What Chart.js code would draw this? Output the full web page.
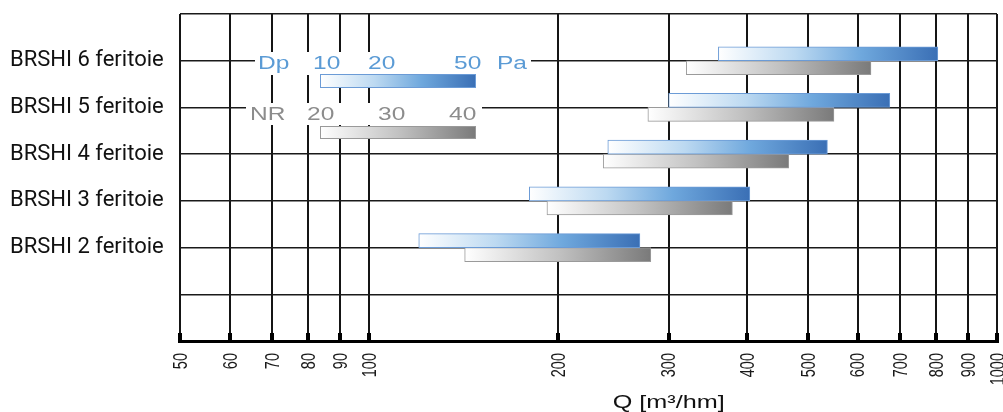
<!DOCTYPE html>
<html>
<head>
<meta charset="utf-8">
<script src="https://cdn.jsdelivr.net/npm/chart.js@4/dist/chart.umd.min.js"></script>
<style>
  html, body { margin: 0; padding: 0; background: #fff; }
  #wrap { width: 1003px; height: 412px; }
</style>
</head>
<body>
<div id="wrap"><canvas id="firstChart"></canvas></div>
<script>
// rows top to bottom, empty rows keep the grid spacing
const categories = ['', 'BRSHI 6 feritoie', 'BRSHI 5 feritoie', 'BRSHI 4 feritoie', 'BRSHI 3 feritoie', 'BRSHI 2 feritoie', '', '']
const dpRanges = [null, [360, 805], [300, 675], [240, 537], [180, 404], [120, 270], null, null]
const nrRanges = [null, [320, 630], [278, 550], [236, 466], [192, 379], [142, 281], null, null]
const xTicks = [50, 60, 70, 80, 90, 100, 200, 300, 400, 500, 600, 700, 800, 900, 1000]
const dpLegend = ['Dp', '10', '20', '50', 'Pa']
const nrLegend = ['NR', '20', '30', '40']
const axisTitle = 'Q [m³/hm]'

const blueStops = [[0, '#ffffff'], [0.35, '#bcd9f1'], [0.65, '#6fa8dd'], [1, '#3a6fb5']]
const grayStops = [[0, '#ffffff'], [0.5, '#c2c2c2'], [1, '#7a7a7a']]

const makeGradient = (ctx, x0, x1, stops) => {
    const g = ctx.createLinearGradient(x0, 0, x1, 0)
    stops.forEach(s => g.addColorStop(s[0], s[1]))
    return g
}

const barFill = (stops) => (context) => {
    const chart = context.chart
    const raw = context.raw
    const fallback = stops[stops.length - 1][1]
    if (!chart.chartArea || !Array.isArray(raw)) return fallback
    const x0 = chart.scales.x.getPixelForValue(raw[0])
    const x1 = chart.scales.x.getPixelForValue(raw[1])
    if (!isFinite(x0) || !isFinite(x1)) return fallback
    return makeGradient(chart.ctx, x0, x1, stops)
}

// stretched text, like the original artwork
const stretchText = (ctx, text, x, y, sx, align) => {
    ctx.save()
    ctx.translate(x, y)
    ctx.scale(sx, 1)
    ctx.textAlign = align || 'left'
    ctx.fillText(text, 0, 0)
    ctx.restore()
}

const decor = {
    id: 'decor',
    afterDraw(chart) {
        const ctx = chart.ctx
        const x = chart.scales.x
        const area = chart.chartArea

        // x tick labels, rotated
        ctx.save()
        ctx.fillStyle = '#1a1a1a'
        ctx.font = '14.5px "Liberation Sans", Arial, sans-serif'
        ctx.textBaseline = 'middle'
        xTicks.forEach(v => {
            ctx.save()
            ctx.translate(x.getPixelForValue(v) + 1, area.bottom + 12)
            ctx.scale(1.45, 1)
            ctx.rotate(-Math.PI / 2)
            ctx.textAlign = 'right'
            ctx.fillText(String(v), 0, 0)
            ctx.restore()
        })
        ctx.restore()

        // axis title
        ctx.save()
        ctx.fillStyle = '#111'
        ctx.font = '18px "Liberation Sans", Arial, sans-serif'
        ctx.textBaseline = 'middle'
        stretchText(ctx, axisTitle, x.getPixelForValue(300), 403, 1.4, 'center')
        ctx.restore()

        // legend box
        const lx = area.left
        const ly = area.top
        ctx.save()
        ctx.fillStyle = '#fff'
        ctx.fillRect(lx + 75, ly + 38, 276, 23)
        ctx.fillRect(lx + 66, ly + 89, 236, 22)

        ctx.font = '17.5px "Liberation Sans", Arial, sans-serif'
        ctx.textBaseline = 'middle'
        ctx.fillStyle = '#5b9bd5'
        const dpX = [78, 133, 188, 274, 317]
        dpLegend.forEach((t, i) => stretchText(ctx, t, lx + dpX[i], ly + 50, 1.4))
        ctx.fillStyle = '#8c8c8c'
        const nrX = [70, 127, 198, 269]
        nrLegend.forEach((t, i) => stretchText(ctx, t, lx + nrX[i], ly + 101, 1.4))

        ctx.fillStyle = makeGradient(ctx, lx + 140, lx + 296, blueStops)
        ctx.fillRect(lx + 140, ly + 60, 156, 14)
        ctx.strokeStyle = '#6b9bd6'
        ctx.lineWidth = 1
        ctx.strokeRect(lx + 140.5, ly + 60.5, 155, 13)
        ctx.fillStyle = makeGradient(ctx, lx + 140, lx + 296, grayStops)
        ctx.fillRect(lx + 140, ly + 112, 156, 13)
        ctx.strokeStyle = '#999'
        ctx.strokeRect(lx + 140.5, ly + 112.5, 155, 12)
        ctx.restore()
    }
}

const firstChart = new Chart(document.getElementById('firstChart').getContext('2d'), {
    type: 'bar',
    data: {
        labels: categories,
        datasets: [{
            label: 'Dp',
            data: dpRanges,
            backgroundColor: barFill(blueStops),
            borderColor: '#6b9bd6',
            borderWidth: 1,
            borderSkipped: false,
            barThickness: 14
        }, {
            label: 'NR',
            data: nrRanges,
            backgroundColor: barFill(grayStops),
            borderColor: '#9a9a9a',
            borderWidth: 1,
            borderSkipped: false,
            barThickness: 14
        }]
    },
    options: {
        indexAxis: 'y',
        responsive: true,
        maintainAspectRatio: false,
        animation: false,
        layout: {
            padding: { left: 10, right: 6, top: 14, bottom: 0 }
        },
        plugins: {
            legend: { display: false },
            tooltip: { enabled: false }
        },
        scales: {
            x: {
                type: 'logarithmic',
                min: 50,
                max: 1000,
                afterBuildTicks: scale => { scale.ticks = xTicks.map(v => ({ value: v })) },
                grid: { color: '#151515', lineWidth: 2, tickLength: -8, tickWidth: 4, tickColor: '#000' },
                border: { color: '#000', width: 3 },
                ticks: { display: false },
                afterFit: scale => { scale.height = 71 }
            },
            y: {
                type: 'category',
                offset: false,
                grid: { color: '#1a1a1a', lineWidth: 1.5, drawTicks: false, offset: false },
                border: { display: false },
                ticks: {
                    crossAlign: 'far',
                    padding: 0,
                    color: '#111',
                    font: { family: 'Roboto', size: 22 }
                },
                afterFit: scale => { scale.width = 170 }
            }
        }
    },
    plugins: [decor]
})
</script>
</body>
</html>
